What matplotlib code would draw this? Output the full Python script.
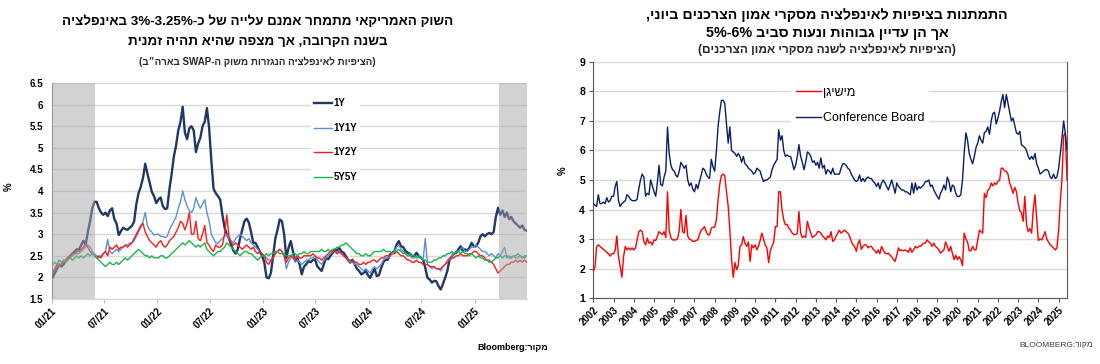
# two panels: US inflation swaps (left) and consumer survey expectations (right)
import re
import numpy as np
import pandas as pd
import matplotlib
matplotlib.use('Agg')
import matplotlib.pyplot as plt
import matplotlib.dates as mdates

plt.rcParams['font.family'] = ['Liberation Sans', 'DejaVu Sans']

# ---- left panel data: weekly readings, Jan 2021 - Jun 2025 ----
swap_start = '2021-01-04'
swap_end = '2025-06-30'

y_1y = [2.0, 2.1, 2.2, 2.3, 2.25, 2.3, 2.4, 2.45, 2.5, 2.55, 2.6, 2.65,
        2.65, 2.75, 2.85, 2.75, 3.05, 3.3, 3.6, 3.75, 3.75, 3.6, 3.5, 3.45,
        3.5, 3.42, 3.55, 3.6, 3.35, 3.25, 2.98, 3.07, 3.15, 3.12, 3.1, 3.15,
        3.19, 3.3, 3.7, 3.95, 4.1, 4.3, 4.63, 4.4, 4.2, 3.98, 3.88, 3.72,
        3.8, 3.85, 3.65, 3.58, 3.6, 4.05, 4.4, 4.8, 5.05, 5.4, 5.6, 5.95,
        5.35, 5.2, 5.45, 5.5, 5.4, 4.9, 5.1, 5.23, 5.5, 5.6, 5.92, 5.45,
        4.7, 4.05, 3.95, 3.88, 3.8, 3.45, 3.15, 3.0, 2.9, 2.75, 2.62, 2.55,
        2.65, 2.9, 3.1, 3.3, 3.36, 3.27, 3.05, 2.8, 2.8, 2.7, 2.6, 2.5,
        2.35, 2.0, 1.98, 2.1, 2.5, 2.9, 3.1, 3.34, 3.3, 3.0, 2.45, 2.68,
        2.84, 2.6, 2.38, 2.45, 2.3, 2.07, 2.25, 2.3, 2.38, 2.35, 2.4, 2.42,
        2.26, 2.2, 2.15, 2.3, 2.45, 2.42, 2.5, 2.57, 2.65, 2.62, 2.68, 2.6,
        2.57, 2.49, 2.4, 2.34, 2.41, 2.3, 2.2, 2.15, 2.07, 2.1, 2.15, 2.05,
        1.99, 2.1, 2.2, 2.03, 2.05, 2.22, 2.35, 2.41, 2.41, 2.53, 2.57, 2.6,
        2.76, 2.84, 2.72, 2.7, 2.61, 2.57, 2.55, 2.5, 2.49, 2.57, 2.5, 2.45,
        2.41, 2.22, 1.99, 1.95, 1.88, 1.92, 1.91, 1.8, 1.72, 1.85, 1.99, 2.15,
        2.41, 2.49, 2.55, 2.57, 2.65, 2.72, 2.61, 2.65, 2.62, 2.68, 2.8, 2.72,
        2.72, 2.8, 2.95, 3.0, 2.95, 3.0, 3.03, 3.0, 3.05, 3.4, 3.61, 3.45,
        3.55, 3.4, 3.5, 3.35, 3.4, 3.3, 3.25, 3.2, 3.15, 3.2, 3.1, 3.08]

y_1y1y = [2.1, 2.2, 2.25, 2.3, 2.3, 2.35, 2.4, 2.45, 2.45, 2.5, 2.55, 2.55,
          2.55, 2.6, 2.65, 2.7, 2.75, 2.7, 2.6, 2.55, 2.5, 2.45, 2.5, 2.55,
          2.6, 2.88, 2.6, 2.55, 2.6, 2.65, 2.6, 2.65, 2.7, 2.75, 2.75, 2.8,
          2.8, 2.85, 2.95, 3.05, 3.15, 3.3, 3.5, 3.2, 3.1, 3.05, 2.98, 3.0,
          3.0, 2.95, 2.95, 2.92, 2.95, 3.1, 3.2, 3.3, 3.4, 3.6, 3.75, 4.0,
          3.8, 3.65, 3.55, 3.5, 3.6, 3.85, 3.7, 3.6, 3.7, 3.8, 3.5, 3.3,
          3.0, 2.9, 2.8, 2.78, 2.85, 2.9, 2.95, 3.0, 2.9, 2.85, 2.8, 2.9,
          2.95, 3.0, 2.95, 2.9, 2.85, 2.9, 2.8, 2.75, 2.7, 2.65, 2.6, 2.55,
          2.5, 2.45, 2.4, 2.4, 2.45, 2.55, 2.6, 2.65, 2.6, 2.5, 2.2, 2.35,
          2.45, 2.5, 2.35, 2.4, 2.35, 2.3, 2.35, 2.4, 2.4, 2.45, 2.45, 2.5,
          2.4, 2.35, 2.3, 2.4, 2.45, 2.5, 2.55, 2.6, 2.6, 2.55, 2.6, 2.55,
          2.5, 2.45, 2.4, 2.35, 2.35, 2.3, 2.3, 2.25, 2.2, 2.15, 2.2, 2.15,
          2.1, 2.2, 2.25, 2.2, 2.25, 2.3, 2.4, 2.45, 2.45, 2.5, 2.55, 2.6,
          2.7, 2.75, 2.65, 2.6, 2.55, 2.5, 2.5, 2.45, 2.45, 2.5, 2.45, 2.45,
          2.4, 2.9, 2.3, 2.25, 2.2, 2.25, 2.2, 2.2, 2.15, 2.25, 2.3, 2.4,
          2.45, 2.5, 2.55, 2.6, 2.6, 2.65, 2.7, 2.6, 2.6, 2.65, 2.7, 2.7,
          2.75, 2.7, 2.65, 2.6, 2.6, 2.55, 2.5, 2.55, 2.5, 2.45, 2.55, 2.5,
          2.6, 2.7, 2.45, 2.5, 2.45, 2.5, 2.45, 2.45, 2.5, 2.45, 2.45, 2.5]

y_1y2y = [2.1, 2.2, 2.3, 2.25, 2.3, 2.35, 2.4, 2.45, 2.5, 2.55, 2.55, 2.6,
          2.6, 2.65, 2.7, 2.78, 2.7, 2.6, 2.55, 2.5, 2.45, 2.5, 2.45, 2.55,
          2.6, 2.5, 2.7, 2.65, 2.7, 2.75, 2.65, 2.7, 2.7, 2.75, 2.7, 2.75,
          2.8, 2.9, 3.0, 3.1, 3.2, 3.25, 3.05, 2.95, 2.85, 2.8, 2.75, 2.7,
          2.8, 2.85, 2.75, 2.7, 2.75, 2.85, 2.9, 2.95, 3.05, 3.15, 3.3, 3.25,
          3.1, 3.25, 3.5, 3.0, 3.0, 3.3, 2.9, 2.85, 3.0, 3.2, 2.8, 2.75,
          2.65, 2.6, 2.75, 2.7, 2.7, 2.75, 3.0, 3.45, 2.95, 2.8, 2.75, 2.8,
          2.75, 2.7, 2.65, 2.7, 2.75, 2.7, 2.65, 2.7, 2.6, 2.55, 2.6, 2.55,
          2.5, 2.35, 2.3, 2.4, 2.45, 2.55, 2.6, 2.65, 2.6, 2.5, 2.35, 2.45,
          2.5, 2.45, 2.4, 2.5, 2.45, 2.45, 2.5, 2.5, 2.5, 2.5, 2.55, 2.5,
          2.45, 2.45, 2.4, 2.45, 2.5, 2.55, 2.6, 2.6, 2.6, 2.55, 2.6, 2.55,
          2.5, 2.45, 2.4, 2.4, 2.4, 2.35, 2.35, 2.3, 2.3, 2.35, 2.3, 2.35,
          2.35, 2.4, 2.4, 2.35, 2.4, 2.45, 2.45, 2.5, 2.5, 2.5, 2.55, 2.55,
          2.6, 2.55, 2.5, 2.5, 2.45, 2.4, 2.4, 2.35, 2.35, 2.4, 2.35, 2.35,
          2.3, 2.3, 2.3, 2.25, 2.25, 2.25, 2.2, 2.2, 2.2, 2.25, 2.3, 2.35,
          2.4, 2.45, 2.45, 2.5, 2.5, 2.55, 2.5, 2.5, 2.5, 2.55, 2.55, 2.6,
          2.6, 2.55, 2.5, 2.5, 2.45, 2.4, 2.4, 2.35, 2.3, 2.2, 2.1, 2.15,
          2.2, 2.25, 2.3, 2.3, 2.35, 2.35, 2.4, 2.35, 2.4, 2.35, 2.4, 2.35]

y_5y5y = [2.3, 2.35, 2.3, 2.4, 2.35, 2.4, 2.35, 2.4, 2.45, 2.4, 2.45, 2.5,
          2.45, 2.5, 2.45, 2.5, 2.55, 2.5, 2.55, 2.5, 2.45, 2.4, 2.35, 2.3,
          2.25, 2.3, 2.35, 2.3, 2.3, 2.35, 2.3, 2.35, 2.4, 2.45, 2.4, 2.45,
          2.5, 2.55, 2.6, 2.65, 2.6, 2.55, 2.5, 2.5, 2.45, 2.5, 2.45, 2.45,
          2.45, 2.5, 2.5, 2.45, 2.45, 2.5, 2.55, 2.6, 2.65, 2.7, 2.75, 2.8,
          2.75, 2.8, 2.85, 2.8, 2.75, 2.7, 2.75, 2.7, 2.75, 2.8, 2.65, 2.6,
          2.55, 2.5, 2.55, 2.6, 2.6, 2.65, 2.7, 2.8, 2.75, 2.7, 2.65, 2.6,
          2.55, 2.5, 2.55, 2.6, 2.6, 2.55, 2.55, 2.5, 2.45, 2.4, 2.45, 2.5,
          2.5, 2.55, 2.5, 2.55, 2.55, 2.6, 2.6, 2.55, 2.55, 2.55, 2.5, 2.5,
          2.5, 2.55, 2.55, 2.5, 2.55, 2.55, 2.6, 2.55, 2.55, 2.6, 2.6, 2.6,
          2.6, 2.6, 2.65, 2.6, 2.6, 2.65, 2.6, 2.65, 2.65, 2.7, 2.7, 2.75,
          2.75, 2.8, 2.75, 2.7, 2.65, 2.6, 2.55, 2.55, 2.5, 2.5, 2.55, 2.5,
          2.5, 2.55, 2.6, 2.6, 2.6, 2.6, 2.65, 2.6, 2.6, 2.6, 2.55, 2.6,
          2.6, 2.65, 2.6, 2.55, 2.55, 2.5, 2.55, 2.5, 2.5, 2.45, 2.5, 2.45,
          2.4, 2.4, 2.35, 2.35, 2.35, 2.4, 2.4, 2.45, 2.45, 2.5, 2.5, 2.55,
          2.55, 2.6, 2.55, 2.6, 2.6, 2.55, 2.6, 2.55, 2.55, 2.5, 2.55, 2.5,
          2.45, 2.5, 2.45, 2.45, 2.4, 2.4, 2.35, 2.35, 2.4, 2.45, 2.45, 2.5,
          2.45, 2.5, 2.5, 2.45, 2.45, 2.5, 2.5, 2.55, 2.5, 2.45, 2.5, 2.5]

swap_names = ['1Y', '1Y1Y', '1Y2Y', '5Y5Y']
swap_ticks = ['2021-01-01', '2021-07-01', '2022-01-01', '2022-07-01', '2023-01-01',
              '2023-07-01', '2024-01-01', '2024-07-01', '2025-01-01']
shade = [('2021-01-01', '2021-06-01'), ('2025-03-25', '2025-07-01')]

# ---- right panel data: monthly, Jan 2002 - Jun 2025 ----
survey_start = '2002-01-01'
michigan = [1.9, 2.07, 2.75, 2.8, 2.75, 2.7, 2.65, 2.6, 2.55, 2.5, 2.42, 2.5,
            2.5, 2.63, 3.1, 2.4, 2.07, 1.7, 2.4, 2.75, 2.63, 2.7, 2.63, 2.7,
            2.63, 2.7, 2.97, 3.25, 3.3, 3.25, 2.92, 2.8, 3.03, 2.86, 2.9, 2.8,
            2.97, 2.95, 3.08, 3.25, 3.2, 3.15, 3.25, 3.05, 4.6, 3.3, 3.05, 2.97,
            2.97, 2.97, 3.0, 3.3, 4.0, 3.25, 3.2, 3.8, 3.1, 3.0, 2.97, 2.92,
            2.92, 2.95, 2.97, 3.15, 3.3, 3.35, 3.42, 3.25, 3.14, 3.14, 3.37, 3.4,
            3.4, 3.65, 4.3, 4.85, 5.15, 5.2, 5.15, 4.6, 4.1, 3.3, 2.3, 1.7,
            2.2, 1.96, 2.1, 2.75, 2.8, 3.08, 2.86, 2.75, 2.9, 2.24, 2.8, 2.7,
            2.8, 2.63, 2.75, 2.95, 3.2, 3.0, 2.8, 2.7, 2.2, 2.6, 2.75, 2.9,
            3.42, 3.42, 4.6, 4.6, 3.98, 3.65, 3.48, 3.5, 3.37, 3.3, 3.2, 3.15,
            3.15, 3.2, 3.93, 3.2, 3.05, 3.1, 3.05, 3.6, 3.37, 3.2, 3.05, 3.1,
            3.14, 3.25, 3.25, 3.2, 3.1, 3.05, 2.97, 3.1, 3.05, 3.25, 2.92, 2.97,
            3.1, 3.2, 3.3, 3.2, 3.25, 3.3, 3.25, 3.2, 3.1, 2.92, 2.8, 2.75,
            2.58, 2.85, 2.97, 2.65, 2.75, 2.8, 2.8, 2.7, 2.75, 2.75, 2.65, 2.6,
            2.52, 2.63, 2.5, 2.75, 2.63, 2.52, 2.5, 2.52, 2.45, 2.4, 2.3, 2.24,
            2.45, 2.7, 2.6, 2.63, 2.6, 2.63, 2.6, 2.55, 2.7, 2.55, 2.63, 2.75,
            2.7, 2.75, 2.75, 2.8, 2.86, 2.86, 2.97, 2.9, 2.86, 2.75, 2.86, 2.75,
            2.7, 2.63, 2.52, 2.58, 2.63, 2.9, 2.75, 2.58, 2.75, 2.52, 2.3, 2.45,
            2.3, 2.4, 2.3, 2.1, 3.2, 3.0, 2.9, 2.6, 2.6, 2.75, 2.63, 2.63,
            2.97, 3.3, 3.25, 3.2, 4.55, 4.4, 4.65, 4.7, 4.9, 4.8, 4.9, 4.85,
            4.95, 5.0, 5.4, 5.4, 5.3, 5.3, 5.2, 4.9, 4.75, 4.55, 4.75, 4.6,
            4.2, 3.95, 3.9, 3.6, 4.45, 3.5, 3.25, 3.35, 3.2, 4.0, 4.5, 3.7,
            2.95, 3.0, 2.97, 3.1, 3.25, 3.0, 2.9, 2.8, 2.75, 2.7, 2.63, 2.7,
            3.3, 4.3, 5.0, 6.5, 6.6, 5.0]

conf_board = [4.2, 4.15, 4.1, 4.5, 4.2, 4.2, 4.25, 4.2, 4.4, 4.25, 4.3, 4.45,
              4.45, 4.8, 4.95, 4.3, 4.1, 4.2, 4.25, 4.3, 4.5, 4.45, 4.35, 4.3,
              4.3, 4.3, 4.35, 4.7, 5.0, 5.2, 5.1, 4.45, 4.55, 4.5, 5.0, 4.8,
              4.6, 4.45, 4.9, 5.5, 4.85, 4.8, 5.1, 5.3, 6.8, 5.9, 5.5, 5.35,
              5.3, 5.15, 5.1, 5.3, 5.6, 5.5, 5.4, 5.5, 5.0, 4.8, 4.9, 4.7,
              4.6, 4.85, 4.7, 4.95, 5.15, 5.4, 5.35, 5.2, 5.1, 5.05, 5.7, 5.45,
              5.3, 6.0, 6.8, 7.3, 7.7, 7.7, 7.6, 6.9, 6.25, 6.8, 6.0, 5.95,
              5.9, 5.8, 5.9, 5.8, 5.6, 5.8, 5.55, 5.5, 5.4, 5.35, 5.3, 5.2,
              5.25, 5.4, 5.35, 5.3, 5.1, 4.95, 5.0, 5.0, 5.05, 5.1, 5.35, 5.5,
              5.6, 5.7, 6.7, 6.35, 6.5, 6.0, 5.8, 5.85, 5.8, 5.8, 5.6, 5.35,
              5.5, 5.8, 6.2, 5.8, 5.6, 5.35, 5.6, 5.95, 5.9, 5.8, 5.6, 5.65,
              5.5, 5.6, 5.4, 5.75, 5.4, 5.5, 5.2, 5.35, 5.3, 5.2, 5.4, 5.2,
              5.2, 5.2, 5.2, 5.4, 5.55, 5.55, 5.5, 5.4, 5.35, 5.2, 5.1, 5.0,
              4.95, 5.0, 5.17, 4.95, 5.05, 4.95, 5.05, 5.1, 5.05, 5.05, 4.95, 4.9,
              4.78, 4.9, 4.7, 4.9, 5.0, 4.9, 4.78, 4.66, 4.83, 5.0, 4.78, 4.55,
              4.9, 4.78, 4.72, 4.66, 4.66, 4.6, 4.6, 4.55, 4.5, 4.9, 4.55, 4.9,
              4.66, 4.78, 4.72, 4.78, 4.83, 4.95, 4.95, 5.0, 4.78, 4.83, 4.66, 4.55,
              4.44, 4.35, 4.55, 4.66, 4.83, 4.66, 5.1, 4.95, 4.6, 4.83, 4.78, 4.55,
              4.44, 4.44, 4.5, 5.0, 5.9, 6.6, 6.35, 5.9, 5.7, 5.55, 5.8, 6.1,
              6.25, 6.5, 6.35, 6.25, 6.6, 6.65, 6.8, 6.55, 7.0, 7.25, 7.3, 6.9,
              7.1, 7.35, 7.65, 7.9, 7.45, 7.9, 7.6, 7.3, 7.0, 7.1, 6.85, 6.6,
              6.55, 6.65, 6.2, 6.15, 6.1, 6.0, 5.8, 5.7, 5.8, 5.7, 5.9, 5.55,
              5.4, 5.2, 5.25, 5.3, 5.35, 5.35, 5.3, 5.1, 5.05, 5.2, 5.05, 5.1,
              5.4, 5.9, 6.4, 7.0, 6.6, 6.0]

survey_names = ['מישיגן', 'Conference Board']


def heb(s):
    # matplotlib draws left to right, so put the Hebrew in visual order by hand
    t = s[::-1]
    t = re.sub(r'[A-Za-z0-9%]+(?:[.\-][A-Za-z0-9%]+)*', lambda m: m.group(0)[::-1], t)
    return t.translate(str.maketrans('()', ')('))


def bold_ticks(ax):
    for label in ax.get_xticklabels() + ax.get_yticklabels():
        label.set_fontweight('bold')


def plot_swaps(fig):
    ax = fig.add_axes([0.047, 0.1786, 0.4321, 0.5934])
    colors = ['#203864', '#5b8fd6', '#ff1a1a', '#1db34a']
    widths = [1.7, 1.0, 1.0, 1.0]
    series = [y_1y, y_1y1y, y_1y2y, y_5y5y]
    for s, name, c, w in zip(series, swap_names, colors, widths):
        d = pd.date_range(swap_start, swap_end, periods=len(s))
        ax.plot(d, s, color=c, lw=w, label=name, zorder=3)
    for a, b in shade:
        ax.axvspan(pd.Timestamp(a), pd.Timestamp(b), color='#a6a6a6', alpha=0.5, lw=0, zorder=5)

    ax.set_xlim(pd.Timestamp('2021-01-01'), pd.Timestamp('2025-07-01'))
    ax.set_ylim(1.5, 6.5)
    ax.set_yticks(np.arange(1.5, 6.51, 0.5))
    ax.set_yticklabels(['%g' % v for v in np.arange(1.5, 6.51, 0.5)])
    ax.set_xticks([pd.Timestamp(t) for t in swap_ticks])
    ax.xaxis.set_major_formatter(mdates.DateFormatter('%m/%y'))
    ax.grid(axis='y', color='#d9d9d9', lw=1, zorder=0)
    ax.set_axisbelow(True)
    for side in ['top', 'right']:
        ax.spines[side].set_visible(False)
    ax.spines['left'].set_color('#8c8c8c')
    ax.spines['bottom'].set_color('#d9d9d9')
    ax.tick_params(axis='y', length=0, labelsize=7, pad=6)
    ax.tick_params(axis='x', length=3, color='#bfbfbf', labelsize=7, pad=2)
    plt.setp(ax.get_xticklabels(), rotation=45, ha='right', rotation_mode='anchor')
    bold_ticks(ax)
    ax.set_ylabel('%', fontsize=7, fontweight='bold')
    ax.yaxis.set_label_coords(-0.08, 0.52)

    lg = ax.legend(loc='upper left', bbox_to_anchor=(0.536, 0.965), frameon=True,
                   facecolor='white', edgecolor='none', framealpha=1,
                   prop=dict(weight='bold', size=7), handlelength=1.8,
                   handletextpad=0.15, labelspacing=1.5, borderpad=0.3)
    lg.set_zorder(6)

    fig.text(0.234, 0.94, heb('השוק האמריקאי מתמחר אמנם עלייה של כ-3%-3.25% באינפלציה'),
             ha='center', va='center', fontsize=9.6, fontweight='bold')
    fig.text(0.234, 0.885, heb('בשנה הקרובה, אך מצפה שהיא תהיה זמנית'),
             ha='center', va='center', fontsize=9.6, fontweight='bold')
    fig.text(0.234, 0.83, heb('(הציפיות לאינפלציה הנגזרות משוק ה-SWAP בארה״ב)'),
             ha='center', va='center', fontsize=7, fontweight='bold', color='#262626')
    fig.text(0.498, 0.044, heb('מקור:Bloomberg'), ha='right', va='center',
             fontsize=6.5, fontweight='bold')


def plot_surveys(fig):
    ax = fig.add_axes([0.5394, 0.1813, 0.4306, 0.6484])
    d1 = pd.date_range(survey_start, periods=len(michigan), freq='MS')
    d2 = pd.date_range(survey_start, periods=len(conf_board), freq='MS')
    ax.plot(d1, michigan, color='#ff0000', lw=1.0, label=heb(survey_names[0]), zorder=3)
    ax.plot(d2, conf_board, color='#0a1f66', lw=1.0, label=survey_names[1], zorder=3)

    ax.set_xlim(pd.Timestamp(survey_start), d1[-1])
    ax.set_ylim(1, 9)
    ax.set_yticks(range(1, 10))
    ax.set_xticks([pd.Timestamp('%d-01-01' % y) for y in range(2002, 2026)])
    ax.xaxis.set_major_formatter(mdates.DateFormatter('%Y'))
    ax.grid(axis='y', color='#d9d9d9', lw=1, zorder=0)
    ax.set_axisbelow(True)
    ax.spines['top'].set_visible(False)
    for side in ['left', 'bottom', 'right']:
        ax.spines[side].set_color('#595959')
    ax.tick_params(axis='y', length=3, color='#595959', labelsize=7.5, pad=3)
    ax.tick_params(axis='x', length=3, color='#595959', labelsize=7, pad=2)
    plt.setp(ax.get_xticklabels(), rotation=45, ha='right', rotation_mode='anchor')
    bold_ticks(ax)
    ax.set_ylabel('%', fontsize=7, fontweight='bold')
    ax.yaxis.set_label_coords(-0.055, 0.54)

    ax.legend(loc='upper left', bbox_to_anchor=(0.405, 0.943), frameon=True,
              facecolor='white', edgecolor='none', framealpha=1,
              prop=dict(size=9), handlelength=2.0, handletextpad=0.1,
              labelspacing=1.1, borderpad=0.4)

    fig.text(0.752, 0.959, heb('התמתנות בציפיות לאינפלציה מסקרי אמון הצרכנים ביוני,'),
             ha='center', va='center', fontsize=10.3, fontweight='bold')
    fig.text(0.752, 0.909, heb('אך הן עדיין גבוהות ונעות סביב 5%-6%'),
             ha='center', va='center', fontsize=10.3, fontweight='bold')
    fig.text(0.752, 0.863, heb('(הציפיות לאינפלציה לשנה מסקרי אמון הצרכנים)'),
             ha='center', va='center', fontsize=8.6, fontweight='bold', color='#262626')
    fig.text(0.994, 0.052, heb('מקור:BLOOMBERG'), ha='right', va='center',
             fontsize=6, color='#404040')


if __name__ == '__main__':
    fig = plt.figure(figsize=(11, 3.64), dpi=100)
    plot_swaps(fig)
    plot_surveys(fig)
    fig.savefig('out.png', dpi=100, facecolor='white')
